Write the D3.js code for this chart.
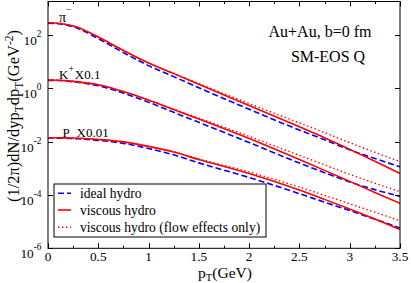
<!DOCTYPE html>
<html><head><meta charset="utf-8">
<script src="https://cdn.jsdelivr.net/npm/d3@7"></script>
<style>
html,body{margin:0;padding:0;background:#fff;}
svg{display:block;}
text{font-family:"Liberation Serif","Times New Roman",serif;fill:#000;}
</style></head>
<body><svg id="c" width="411" height="283"></svg>
<script>
// ---- data ----
const pT = [0, 0.1, 0.2, 0.3, 0.4, 0.5, 0.75, 1.0, 1.25, 1.5, 2.0, 2.5, 2.75, 3.0, 3.25, 3.5];
const pionIdeal   = [277, 265, 227, 175, 116, 73.3, 21.9, 7.11, 2.75, 1.05, 0.163, 0.0272, 0.0118, 0.00492, 0.00234, 0.00114];
const pionViscous = [289, 277, 241, 191, 130, 84.1, 26.2, 8.90, 3.56, 1.41, 0.226, 0.0359, 0.0140, 0.00514, 0.00184, 0.000646];
const pionFlow    = [289, 277, 241, 191, 130, 84.1, 26.2, 8.90, 3.68, 1.51, 0.269, 0.0507, 0.0219, 0.00917, 0.00400, 0.00179];
const kaonIdeal   = [1.997, 1.962, 1.846, 1.664, 1.462, 1.241, 0.661, 0.301, 0.1256, 0.0530, 0.00925, 0.001575, 0.000687, 0.000308, 0.000159, 8.86e-5];
const kaonViscous = [2.049, 2.014, 1.911, 1.753, 1.567, 1.353, 0.759, 0.364, 0.160, 0.0705, 0.01307, 0.00213, 0.000838, 0.000324, 0.000125, 4.84e-5];
const kaonFlow    = [2.049, 2.014, 1.911, 1.753, 1.567, 1.353, 0.759, 0.364, 0.1656, 0.0762, 0.0158, 0.00306, 0.001347, 0.000593, 0.000277, 1.342e-4];
const protonIdeal   = [0.01365, 0.01359, 0.01330, 0.01284, 0.01210, 0.01119, 0.00864, 0.00551, 0.00320, 0.00160, 0.000454, 0.000112, 5.37e-5, 2.62e-5, 1.236e-5, 5.78e-6];
const protonViscous = [0.01401, 0.01395, 0.01377, 0.01341, 0.01285, 0.01209, 0.00983, 0.00666, 0.00407, 0.00213, 0.000636, 0.000153, 6.84e-5, 2.98e-5, 1.257e-5, 5.12e-6];
const protonFlow    = [0.01401, 0.01395, 0.01377, 0.01341, 0.01285, 0.01209, 0.00983, 0.00666, 0.004176, 0.002243, 0.00073, 0.000198, 9.67e-5, 4.67e-5, 2.26e-5, 1.086e-5];

const xDomain = [0, 3.5];
const yDomain = [1e-6, 1807];
const xMajorTicks = [0, 0.5, 1, 1.5, 2, 2.5, 3, 3.5];
const xTickLabels = ["0", "0.5", "1", "1.5", "2", "2.5", "3", "3.5"];
const xMinorTicks = [0.25, 0.75, 1.25, 1.75, 2.25, 2.75, 3.25];
const yMajorTicks = [1e2, 1e0, 1e-2, 1e-4, 1e-6];
const yTickExponents = ["2", "0", "-2", "-4", "-6"];
const legendLabels = ["ideal hydro", "viscous hydro", "viscous hydro (flow effects only)"];

// ---- layout ----
const L = 48, R = 400, T = 1.5, B = 248.3;
const svg = d3.select("#c");
const x = d3.scaleLinear().domain(xDomain).range([L, R]);
const y = d3.scaleLog().domain(yDomain).range([B, T]);

const styles = {
  ideal:   {stroke: "#0000ff", width: 1.6, dash: "6,3"},
  viscous: {stroke: "#ff0000", width: 1.6, dash: null},
  flow:    {stroke: "#ff0000", width: 1.4, dash: "1.4,2.6"}
};

svg.append("clipPath").attr("id", "clip").append("rect")
  .attr("x", L).attr("y", T).attr("width", R - L).attr("height", B - T);

const line = d3.line().x(d => x(d[0])).y(d => y(d[1])).curve(d3.curveMonotoneX);
const curves = [
  [pionIdeal, "ideal"], [kaonIdeal, "ideal"], [protonIdeal, "ideal"],
  [pionFlow, "flow"], [kaonFlow, "flow"], [protonFlow, "flow"],
  [pionViscous, "viscous"], [kaonViscous, "viscous"], [protonViscous, "viscous"]
];
const g = svg.append("g").attr("clip-path", "url(#clip)");
curves.forEach(([vals, kind]) => {
  const s = styles[kind];
  g.append("path").datum(pT.map((p, i) => [p, vals[i]]))
    .attr("d", line).attr("fill", "none")
    .attr("stroke", s.stroke).attr("stroke-width", s.width)
    .attr("stroke-dasharray", s.dash);
});

// frame
svg.append("rect").attr("x", L).attr("y", T).attr("width", R - L).attr("height", B - T)
  .attr("fill", "none").attr("stroke", "#000").attr("stroke-width", 1);

// ticks
const tk = svg.append("g").attr("stroke", "#000").attr("stroke-width", 1);
xMajorTicks.forEach(v => {
  const xx = Math.round(x(v)) + 0.5;
  tk.append("line").attr("x1", xx).attr("x2", xx).attr("y1", B).attr("y2", B - 5);
  tk.append("line").attr("x1", xx).attr("x2", xx).attr("y1", T).attr("y2", T + 5);
});
xMinorTicks.forEach(v => {
  const xx = Math.round(x(v)) + 0.5;
  tk.append("line").attr("x1", xx).attr("x2", xx).attr("y1", B).attr("y2", B - 2.5);
  tk.append("line").attr("x1", xx).attr("x2", xx).attr("y1", T).attr("y2", T + 2.5);
});
yMajorTicks.forEach(v => {
  const yy = Math.round(y(v)) + 0.5;
  tk.append("line").attr("x1", L).attr("x2", L + 5).attr("y1", yy).attr("y2", yy);
  tk.append("line").attr("x1", R).attr("x2", R - 5).attr("y1", yy).attr("y2", yy);
});

// x tick labels
xMajorTicks.forEach((v, i) => {
  svg.append("text").attr("x", x(v)).attr("y", 261)
    .attr("text-anchor", "middle").attr("font-size", 13.3).text(xTickLabels[i]);
});
// y tick labels
yMajorTicks.forEach((v, i) => {
  const t = svg.append("text").attr("x", 41.5).attr("y", y(v) + 10)
    .attr("text-anchor", "end").attr("font-size", 13.3);
  t.append("tspan").text("10");
  t.append("tspan").attr("dy", -8).attr("font-size", 9.3).text(yTickExponents[i]);
});

// axis titles
const xt = svg.append("text").attr("x", 225).attr("y", 277.5).attr("text-anchor", "middle").attr("font-size", 15.5);
xt.append("tspan").text("p");
xt.append("tspan").attr("dy", 3).attr("font-size", 10.5).text("T");
xt.append("tspan").attr("dy", -3).text("(GeV)");

const yt = svg.append("text").attr("transform", "translate(19,116) rotate(-90)")
  .attr("text-anchor", "middle").attr("font-size", 16.5);
yt.append("tspan").text("(1/2π)dN/dyp");
yt.append("tspan").attr("dy", 3.5).attr("font-size", 11.5).text("T");
yt.append("tspan").attr("dy", -3.5).text("dp");
yt.append("tspan").attr("dy", 3.5).attr("font-size", 11.5).text("T");
yt.append("tspan").attr("dy", -3.5).text("(GeV");
yt.append("tspan").attr("dy", -6.5).attr("font-size", 11.5).text("-2");
yt.append("tspan").attr("dy", 6.5).text(")");

// curve annotations
const a1 = svg.append("text").attr("x", 59).attr("y", 21.5).attr("font-size", 14);
a1.append("tspan").text("π");
a1.append("tspan").attr("dy", -9).attr("font-size", 10).text("−");
const a2 = svg.append("text").attr("x", 59).attr("y", 79).attr("font-size", 13);
a2.append("tspan").text("K");
a2.append("tspan").attr("dy", -7).attr("font-size", 9.5).text("+");
a2.append("tspan").attr("dy", 7).attr("dx", 1).text("X0.1");
svg.append("text").attr("x", 62.5).attr("y", 136.7).attr("font-size", 13).text("P");
svg.append("text").attr("x", 76.5).attr("y", 136.7).attr("font-size", 13).text("X0.01");

// top-right labels
svg.append("text").attr("x", 320).attr("y", 36.5).attr("text-anchor", "middle").attr("font-size", 16).text("Au+Au, b=0 fm");
svg.append("text").attr("x", 328).attr("y", 61.5).attr("text-anchor", "middle").attr("font-size", 16).text("SM-EOS Q");

// legend
const lg = svg.append("g");
lg.append("rect").attr("x", 54).attr("y", 184).attr("width", 212).attr("height", 53)
  .attr("fill", "#fff").attr("stroke", "#000").attr("stroke-width", 1);
const kinds = ["ideal", "viscous", "flow"];
const rowY = [193.3, 210, 227.3];
kinds.forEach((k, i) => {
  const s = styles[k];
  lg.append("line").attr("x1", 58).attr("x2", 71).attr("y1", rowY[i]).attr("y2", rowY[i])
    .attr("stroke", s.stroke).attr("stroke-width", s.width).attr("stroke-dasharray", s.dash);
  lg.append("text").attr("x", 80).attr("y", rowY[i] + 4.5).attr("font-size", 13.6).text(legendLabels[i]);
});
</script></body></html>
